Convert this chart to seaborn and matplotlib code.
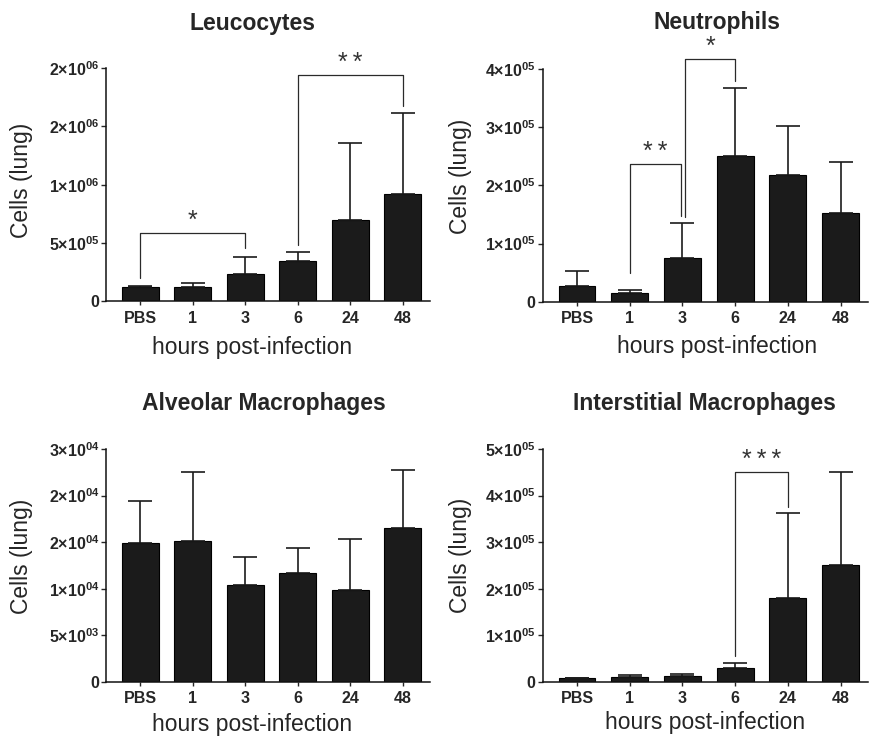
import numpy as np
import matplotlib
matplotlib.use("Agg")
import matplotlib.pyplot as plt
import seaborn as sns

# categories on the x axis
hours = ["PBS", "1", "3", "6", "24", "48"]

# bar heights (mean) and upward error (SD) per panel
leuc_mean = [1.17e5, 1.23e5, 2.32e5, 3.44e5, 6.96e5, 9.23e5]
leuc_err = [1.5e4, 3.5e4, 1.49e5, 7.4e4, 6.59e5, 6.9e5]
neut_mean = [2.75e4, 1.43e4, 7.58e4, 2.50e5, 2.175e5, 1.53e5]
neut_err = [2.6e4, 5.2e3, 5.9e4, 1.18e5, 8.4e4, 8.8e4]
alv_mean = [1.494e4, 1.515e4, 1.039e4, 1.171e4, 9.85e3, 1.648e4]
alv_err = [4.44e3, 7.34e3, 3.01e3, 2.62e3, 5.48e3, 6.26e3]
inter_mean = [7.2e3, 9.3e3, 1.22e4, 2.87e4, 1.80e5, 2.50e5]
inter_err = [1.0e3, 5.0e3, 4.3e3, 1.07e4, 1.82e5, 2.0e5]

# y ticks and their labels (GraphPad style rounding kept as printed)
leuc_yticks = [0, 5e5, 1e6, 1.5e6, 2e6]
leuc_ylabels = ["0", "5×10^05", "1×10^06", "2×10^06", "2×10^06"]
neut_yticks = [0, 1e5, 2e5, 3e5, 4e5]
neut_ylabels = ["0", "1×10^05", "2×10^05", "3×10^05", "4×10^05"]
alv_yticks = [0, 5e3, 1e4, 1.5e4, 2e4, 2.5e4]
alv_ylabels = ["0", "5×10^03", "1×10^04", "2×10^04", "2×10^04", "3×10^04"]
inter_yticks = [0, 1e5, 2e5, 3e5, 4e5, 5e5]
inter_ylabels = ["0", "1×10^05", "2×10^05", "3×10^05", "4×10^05", "5×10^05"]

# significance brackets: (left bar, right bar, bracket height, left foot, right foot, stars)
leuc_sig = [(0, 2, 5.82e5, 1.95e5, 4.53e5, "*"), (3, 5, 1.94e6, 4.81e5, 1.676e6, "**")]
neut_sig = [(1, 2, 2.364e5, 4.9e4, 1.475e5, "**"), (2, 3, 4.17e5, 1.46e5, 3.8e5, "*")]
alv_sig = []
inter_sig = [(3, 4, 4.513e5, 5.5e4, 3.76e5, "***")]

sns.set_style("ticks")
plt.rcParams["font.family"] = ["Liberation Sans", "DejaVu Sans"]
plt.rcParams["mathtext.fontset"] = "custom"
plt.rcParams["mathtext.rm"] = "Liberation Sans"
plt.rcParams["mathtext.bf"] = "Liberation Sans:bold"
plt.rcParams["mathtext.it"] = "Liberation Sans:italic"

BAR = "#1b1b1b"


def sci_label(s):
    # "5×10^05" -> 5×10 with a small bold superscript
    if "^" in s:
        m, e = s.split("^")
        return m + r"$^{\mathbf{" + e + "}}$"
    return s


def draw_panel(ax, mean, err, yticks, ylabels, sig, xlab_pos, ylab_pos):
    sns.barplot(x=hours, y=mean, order=hours, color=BAR, saturation=1,
                width=0.7, edgecolor="black", linewidth=0.8, errorbar=None, ax=ax)

    # one-sided error bars on top of each bar
    xs = [p.get_x() + p.get_width() / 2 for p in ax.patches]
    ax.errorbar(xs, mean, yerr=[np.zeros(len(err)), err], fmt="none",
                ecolor=BAR, elinewidth=1.2, capsize=8.5, capthick=1.2, zorder=3)

    # significance brackets
    for i, j, top, foot_i, foot_j, stars in sig:
        xi, xj = float(i), float(j)
        # two brackets sharing a bar get their legs pulled apart a little
        if any(s[0] == j for s in sig):
            xj -= 0.03
        if any(s[1] == i for s in sig):
            xi += 0.05
        ax.plot([xi, xi, xj, xj], [foot_i, top, top, foot_j], color="#2a2a2a",
                lw=0.9, clip_on=False, zorder=4)
        ax.annotate("\u2009".join(stars), xy=((xi + xj) / 2, top), xytext=(0, 0),
                    textcoords="offset points", ha="center", va="bottom",
                    fontsize=18, color="#333333", annotation_clip=False)

    ax.set_ylim(yticks[0], yticks[-1])
    ax.set_xlim(-0.65, 5.52)
    ax.set_yticks(yticks)
    ax.set_yticklabels([sci_label(s) for s in ylabels])
    ax.tick_params(axis="y", length=3.5, width=1, pad=1.5, labelsize=11.5)
    ax.tick_params(axis="x", length=3, width=1, pad=4, labelsize=11.5)
    for lab in ax.get_xticklabels() + ax.get_yticklabels():
        lab.set_fontweight("bold")

    sns.despine(ax=ax)
    for side in ["left", "bottom"]:
        ax.spines[side].set_linewidth(1.1)
        ax.spines[side].set_color("#111111")

    ax.set_xlabel("hours post-infection", fontsize=16.5)
    ax.xaxis.set_label_coords(xlab_pos[0], xlab_pos[1])
    ax.xaxis.label.set_va("top")
    ax.set_ylabel("Cells (lung)", fontsize=16.5)
    ax.yaxis.set_label_coords(ylab_pos[0], ylab_pos[1])


fig = plt.figure(figsize=(8.69, 7.37), dpi=100)
ax1 = fig.add_axes([0.122, 0.5916, 0.3729, 0.3157])
ax2 = fig.add_axes([0.6245, 0.5906, 0.3743, 0.3157])
ax3 = fig.add_axes([0.122, 0.0750, 0.3729, 0.3157])
ax4 = fig.add_axes([0.6245, 0.0750, 0.3743, 0.3157])

draw_panel(ax1, leuc_mean, leuc_err, leuc_yticks, leuc_ylabels,
           leuc_sig, (0.451, -0.150), (-0.225, 0.52))
draw_panel(ax2, neut_mean, neut_err, neut_yticks, neut_ylabels,
           neut_sig, (0.536, -0.143), (-0.218, 0.538))
draw_panel(ax3, alv_mean, alv_err, alv_yticks, alv_ylabels,
           alv_sig, (0.451, -0.136), (-0.225, 0.537))
draw_panel(ax4, inter_mean, inter_err, inter_yticks,
           inter_ylabels, inter_sig, (0.499, -0.125), (-0.218, 0.544))

# panel titles
fig.text(0.290, 0.959, "Leucocytes", ha="center", va="baseline",
         fontsize=16.5, fontweight="bold")
fig.text(0.8247, 0.960, "Neutrophils", ha="center", va="baseline",
         fontsize=16.5, fontweight="bold")
fig.text(0.304, 0.4437, "Alveolar Macrophages", ha="center", va="baseline",
         fontsize=16.5, fontweight="bold")
fig.text(0.811, 0.4437, "Interstitial Macrophages", ha="center", va="baseline",
         fontsize=16.5, fontweight="bold")

fig.savefig("out.png", dpi=100)
